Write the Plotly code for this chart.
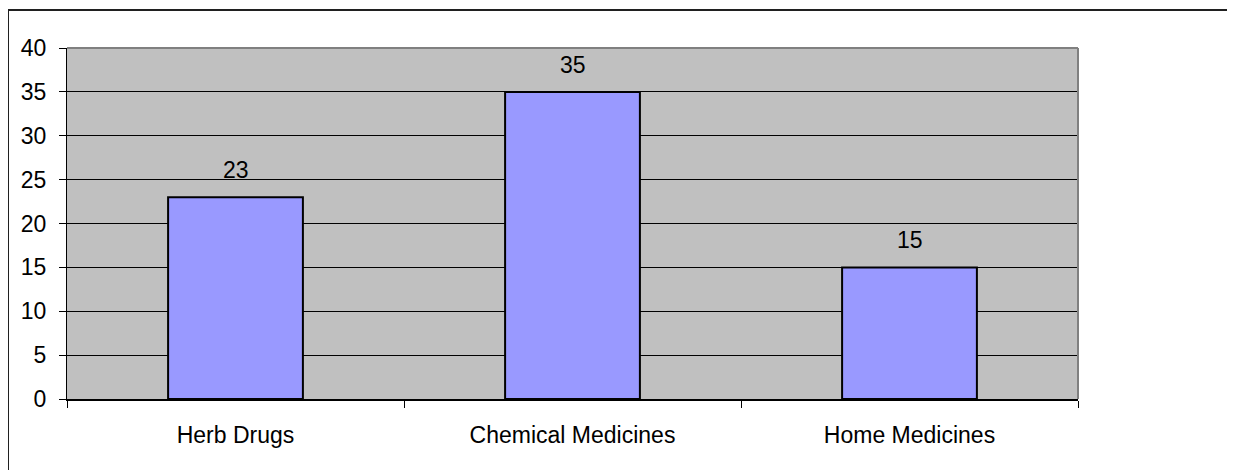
import plotly.graph_objects as go

categories = ["Herb Drugs", "Chemical Medicines", "Home Medicines"]
values = [23, 35, 15]
y_ticks = [0, 5, 10, 15, 20, 25, 30, 35, 40]

W, H = 1235, 470
OFF = 8  # page body margin offset
L, T = 67 - OFF, 48 - OFF
PW, PH = 1011, 351
R = W - L - PW
B = H - T - PH

def px_x(x):
    return (x - OFF - L) / PW

def px_y(y):
    return (T + PH - (y - OFF)) / PH

font = dict(family="Liberation Sans, Arial, sans-serif", size=23, color="black")

fig = go.Figure()
fig.add_trace(go.Bar(
    x=categories, y=values, width=0.4,
    marker=dict(color="#9999FF", line=dict(color="black", width=2)),
    hoverinfo="skip",
))

for c, v in zip(categories, values):
    fig.add_annotation(x=c, y=v, text=str(v), showarrow=False,
                       yanchor="bottom", yshift=12, font=font)

# plot area top/right border (grey)
fig.add_shape(type="line", xref="paper", yref="paper", x0=0, x1=1, y0=1, y1=1,
              line=dict(color="#808080", width=2), layer="above")
fig.add_shape(type="line", xref="paper", yref="paper", x0=1, x1=1, y0=0, y1=1,
              line=dict(color="#808080", width=2), layer="above")
# outer chart border: only top and left edges are inside the window
fig.add_shape(type="line", xref="paper", yref="paper",
              x0=px_x(8), x1=px_x(1300), y0=px_y(10), y1=px_y(10),
              line=dict(color="#202020", width=2), layer="above")
fig.add_shape(type="line", xref="paper", yref="paper",
              x0=px_x(8), x1=px_x(8), y0=px_y(520), y1=px_y(10),
              line=dict(color="#202020", width=2), layer="above")

fig.update_layout(
    width=W, height=H,
    margin=dict(l=L, r=R, t=T, b=B),
    paper_bgcolor="white", plot_bgcolor="#C0C0C0",
    showlegend=False, font=font,
    bargap=0.6,
)
fig.update_xaxes(
    range=[-0.5, 2.5], showgrid=False, showline=True, linecolor="black", linewidth=1.5,
    ticks="outside", tickson="boundaries", ticklen=7, tickcolor="black", tickwidth=1,
    ticklabelstandoff=15, tickfont=font,
)
fig.update_yaxes(
    range=[0, 40], tickvals=y_ticks, showgrid=True, gridcolor="black", gridwidth=1,
    showline=True, linecolor="black", linewidth=1, zeroline=False,
    ticks="outside", ticklen=7, tickcolor="black", tickwidth=1,
    ticklabelstandoff=8, tickfont=font,
)

fig.write_html("out.html")
